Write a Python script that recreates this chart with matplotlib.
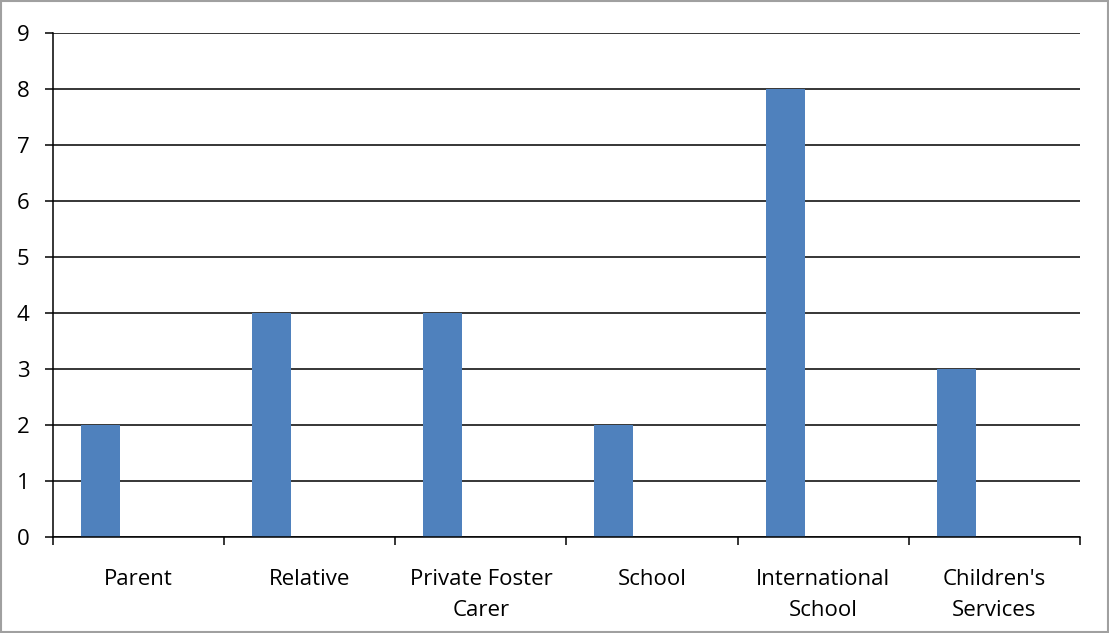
import matplotlib.pyplot as plt
from matplotlib.patches import Rectangle
import numpy as np

categories = ["Parent", "Relative", "Private Foster\nCarer", "School",
              "International\nSchool", "Children's\nServices"]
values = [2, 4, 4, 2, 8, 3]

plt.rcParams['font.family'] = ['Open Sans', 'DejaVu Sans']

fig = plt.figure(figsize=(11.09, 6.33), dpi=100)
ax = fig.add_axes([0.0478, 0.1517, 0.926, 0.7962])

x = np.arange(len(categories))
ax.bar(x - 0.223, values, width=0.228, color='#4F81BD', zorder=2)

ax.set_xlim(-0.5, len(categories) - 0.5)
ax.set_ylim(0, 9)
ax.set_yticks(range(0, 10))
ax.yaxis.grid(True, color='black', linewidth=1.1, zorder=0)
ax.set_axisbelow(True)

# category labels centred, ticks at the boundaries
ax.set_xticks(np.arange(-0.5, len(categories), 1.0))
ax.set_xticklabels([])
ax.set_xticks(x, minor=True)
ax.set_xticklabels(categories, minor=True, fontsize=16, linespacing=1.65, va='top')
ax.tick_params(axis='x', which='minor', length=0, pad=23)
ax.tick_params(axis='x', which='major', length=6, width=1.1, direction='out')
ax.tick_params(axis='y', length=6, width=1.1, direction='out', labelsize=16, pad=11)

for s in ['top', 'right']:
    ax.spines[s].set_visible(False)
ax.spines['left'].set_linewidth(1.1)
ax.spines['bottom'].set_linewidth(1.1)

fig.patches.append(Rectangle((0.001, 0.002), 0.998, 0.996, transform=fig.transFigure,
                             fill=False, edgecolor='#a0a0a0', linewidth=1.5))

fig.savefig('out.png', dpi=100)
